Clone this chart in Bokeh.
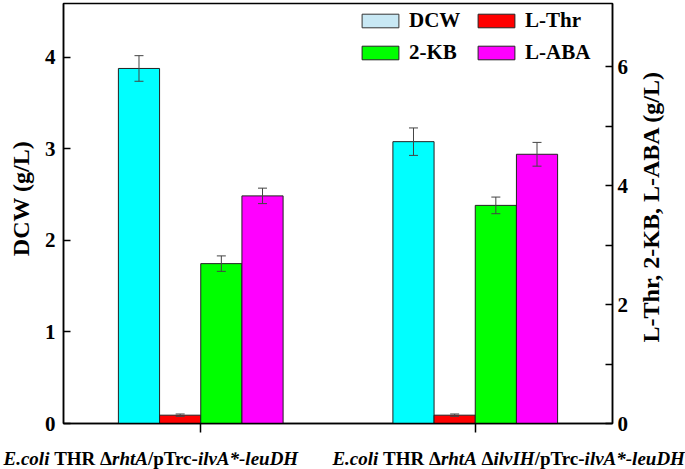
import glob
import math
from bokeh.plotting import figure
from bokeh.layouts import column, row
from bokeh.models import (Range1d, LinearAxis, FixedTicker, ColumnDataSource, Whisker,
                          TeeHead, Legend, LegendItem, CustomLabelingPolicy)
from bokeh.core.properties import value, field
from bokeh.embed import file_html
from bokeh.resources import INLINE

# ---------------- data ----------------
groups = [1, 2]
categories = ["E.coli THR ΔrhtA/pTrc-ilvA*-leuDH",
              "E.coli THR ΔrhtA ΔilvIH/pTrc-ilvA*-leuDH"]
# same labels split into (text, style) runs for mixed italic/upright rendering
category_runs = [
    [("E.coli", "bold italic"), (" THR Δ", "bold"), ("rhtA", "bold italic"),
     ("/pTrc-", "bold"), ("ilvA*-leuDH", "bold italic")],
    [("E.coli", "bold italic"), (" THR Δ", "bold"), ("rhtA", "bold italic"),
     (" Δ", "bold"), ("ilvIH", "bold italic"), ("/pTrc-", "bold"),
     ("ilvA*-leuDH", "bold italic")],
]
series = ["DCW", "L-Thr", "2-KB", "L-ABA"]
dcw = [3.88, 3.08]
dcw_err = [0.14, 0.15]
l_thr = [0.14, 0.14]
l_thr_err = [0.02, 0.02]
kb = [2.69, 3.67]
kb_err = [0.13, 0.14]
l_aba = [3.83, 4.53]
l_aba_err = [0.13, 0.20]
left_ticks = [0, 1, 2, 3, 4]
right_ticks = [0, 2, 4, 6]
right_minor_ticks = [1, 3, 5]
left_title = "DCW (g/L)"
right_title = "L-Thr, 2-KB, L-ABA (g/L)"

FONT = "Liberation Serif"
NBSP = "\u00a0"

# --------------- text measuring ---------------
def _find(name):
    for root in ("/usr/share/fonts", "/usr/local/share/fonts", "/opt", "/root/.fonts"):
        hits = glob.glob(f"{root}/**/{name}", recursive=True)
        if hits:
            return hits[0]
    return None

_font_files = {"bold": _find("LiberationSerif-Bold.ttf"),
               "bold italic": _find("LiberationSerif-BoldItalic.ttf")}
_font_cache = {}

def text_width(txt, style, size):
    path = _font_files.get(style)
    try:
        from PIL import ImageFont
        key = (style, size)
        if key not in _font_cache:
            _font_cache[key] = ImageFont.truetype(path, size)
        return _font_cache[key].getlength(txt)
    except Exception:
        return len(txt) * 0.5 * size

def no_align(fig):
    try:
        fig.frame_align = False
    except Exception:
        pass

# --------------- main figure ---------------
W, H = 685, 469
FL, FW = 63, 549           # frame left / width in px
PW = 632                   # main plot width (right tick labels inside)
x0, x1 = 0.5, 2.5
left_top, right_top = 4.59, 7.067
p = figure(width=PW, height=435, x_range=Range1d(x0, x1), y_range=Range1d(0, left_top),
           x_axis_type=None, y_axis_type=None, output_backend="svg", toolbar_location=None,
           min_border_left=FL, min_border_right=PW - FL - FW, min_border_top=3,
           min_border_bottom=12, background_fill_color="white", border_fill_color="white")
p.extra_y_ranges = {"right": Range1d(0, right_top)}
p.outline_line_color = "black"
p.outline_line_width = 1.5

axis_style = dict(axis_line_width=1.5, axis_line_color="black",
                  major_tick_line_width=1.5, minor_tick_line_width=1.5,
                  major_tick_line_color="black", minor_tick_line_color="black",
                  major_label_text_font=FONT, major_label_text_font_style="bold",
                  major_label_text_font_size="21px", major_label_text_color="black",
                  axis_label_text_font=FONT, axis_label_text_font_style="bold",
                  axis_label_text_font_size="24px", axis_label_text_color="black")

left_axis = LinearAxis(ticker=FixedTicker(ticks=left_ticks, minor_ticks=[]),
                       major_tick_in=7, major_tick_out=0, minor_tick_in=0, minor_tick_out=0,
                       major_label_standoff=8, axis_label=NBSP * 5 + left_title,
                       axis_label_standoff=8, **axis_style)
p.add_layout(left_axis, "left")

right_axis = LinearAxis(y_range_name="right",
                        ticker=FixedTicker(ticks=right_ticks, minor_ticks=right_minor_ticks),
                        major_tick_in=7, major_tick_out=0, minor_tick_in=7, minor_tick_out=0,
                        major_label_standoff=5, **axis_style)
p.add_layout(right_axis, "right")

# bottom axis: only the group tick marks (labels are drawn in the strip below)
bottom_axis = LinearAxis(ticker=FixedTicker(ticks=groups, minor_ticks=[]),
                         major_tick_in=0, major_tick_out=9, minor_tick_in=0, minor_tick_out=0,
                         axis_line_width=1.5, major_tick_line_width=1.5,
                         major_label_standoff=0, major_label_text_font_size="0px",
                         major_label_policy=CustomLabelingPolicy(code="return new Set()"))
p.add_layout(bottom_axis, "below")

# --------------- bars ---------------
bar_w = 0.15
offsets = [-0.225, -0.075, 0.075, 0.225]
values = [dcw, l_thr, kb, l_aba]
errors = [dcw_err, l_thr_err, kb_err, l_aba_err]
colors = ["#00FFFF", "#FF0000", "#00FF00", "#FF00FF"]
ranges = ["default", "right", "right", "right"]

renderers = []
for vals, errs, off, col, rng in zip(values, errors, offsets, colors, ranges):
    src = ColumnDataSource(dict(
        x=[g + off for g in groups], top=vals,
        upper=[v + e for v, e in zip(vals, errs)],
        lower=[v - e for v, e in zip(vals, errs)]))
    r = p.vbar(x="x", top="top", width=bar_w, source=src, fill_color=col,
               line_color="#222222", line_width=1, y_range_name=rng)
    renderers.append(r)
    w = Whisker(source=src, base="x", upper="upper", lower="lower", dimension="height",
                line_color="#444444", line_width=1, y_range_name=rng, level="annotation",
                upper_head=TeeHead(size=9, line_color="#444444", line_width=1),
                lower_head=TeeHead(size=9, line_color="#444444", line_width=1))
    p.add_layout(w)

# legend swatch for DCW is a paler blue in the reference: zero-height stand-in bar
dcw_swatch = p.vbar(x=[groups[0] + offsets[0]], top=[0], width=bar_w, fill_color="#C8E8F4",
                    line_color="#333333", line_width=1)
legend_items = [LegendItem(label=series[0], renderers=[dcw_swatch]),
                LegendItem(label=series[2], renderers=[renderers[2]]),
                LegendItem(label=series[1], renderers=[renderers[1]]),
                LegendItem(label=series[3], renderers=[renderers[3]])]
legend = Legend(items=legend_items, location=(294, 358), ncols=2,
                glyph_width=46, glyph_height=17, label_height=17, label_width=57,
                label_standoff=6, spacing=7, padding=0, margin=0, border_line_alpha=0,
                background_fill_alpha=0, label_text_font=FONT,
                label_text_font_style="bold", label_text_font_size="21px",
                label_text_color="black")
p.add_layout(legend)

# --------------- right axis title strip ---------------
RW = W - PW
rfig = figure(width=RW, height=435, x_range=Range1d(0, RW), y_range=Range1d(0, right_top),
              x_axis_type=None, y_axis_type=None, output_backend="svg",
              toolbar_location=None, min_border_left=0, min_border_right=0,
              min_border_top=3, min_border_bottom=12, outline_line_color=None,
              background_fill_color="white", border_fill_color="white")
no_align(rfig)
rsrc = ColumnDataSource(dict(x=[18], y=[3.65], text=[right_title]))
rfig.text(x="x", y="y", text="text", source=rsrc, angle=math.pi / 2, text_align="center",
          text_baseline="middle", text_font=value(FONT), text_font_style="bold",
          text_font_size=value("24px"), text_color="black")

# --------------- category label strip (mixed styles) ---------------
px_per_unit = FW / (x1 - x0)
q = figure(width=W, height=H - 435,
           x_range=Range1d(x0 - FL / px_per_unit, x1 + (W - FL - FW) / px_per_unit),
           y_range=Range1d(0, H - 435), x_axis_type=None, y_axis_type=None,
           output_backend="svg", toolbar_location=None, min_border=0,
           outline_line_color=None, background_fill_color="white",
           border_fill_color="white")
no_align(q)

cat_size = 19
tx, ty, tt, toff, tstyle = [], [], [], [], []
for gi, (g, runs) in enumerate(zip(groups, category_runs)):
    total = sum(text_width(t, s, cat_size) for t, s in runs)
    center_px = FL + (g - x0) * px_per_unit
    start = (3 - center_px) if gi == 0 else (W - 2 - total - center_px)
    cursor = start
    for t, s in runs:
        stripped = t.lstrip(" ")
        lead = t[: len(t) - len(stripped)]
        if lead:
            cursor += text_width(lead, s, cat_size)
        tx.append(g); ty.append(11); tt.append(stripped); toff.append(cursor); tstyle.append(s)
        cursor += text_width(stripped, s, cat_size)

tsrc = ColumnDataSource(dict(x=tx, y=ty, text=tt, off=toff, style=tstyle))
q.text(x="x", y="y", text="text", x_offset="off", source=tsrc, text_align="left",
       text_baseline="alphabetic", text_font=value(FONT), text_font_style=field("style"),
       text_font_size=value(f"{cat_size}px"), text_color="black")

layout = column(row(p, rfig, spacing=0), q, spacing=0)
open("out.html", "w").write(file_html(layout, INLINE))
